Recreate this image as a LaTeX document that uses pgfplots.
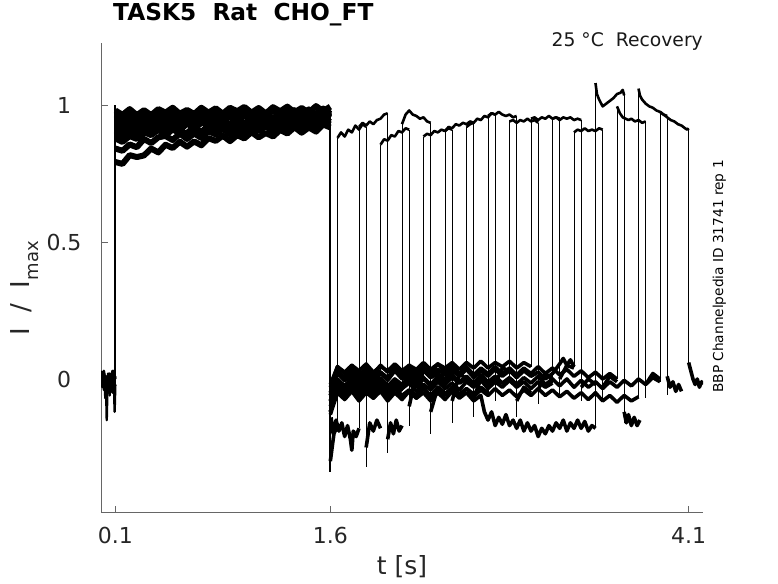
\documentclass[border=0pt]{standalone}
\usepackage{fontspec}
\setmainfont{DejaVu Sans}
\usepackage{pgfplots}
\pgfplotsset{compat=1.18}
\usepackage{pgfplotstable}

% prepulse segment (0.1 s - 1.6 s), one column per trace
\pgfplotstableread{
t    p0   p1   p2   p3   p4   p5   p6   p7   p8   p9
0.10 .980 .966 .949 .935 .921 .907 .892 .878 .841 .792
0.15 .964 .952 .939 .926 .910 .893 .880 .865 .833 .785
0.20 .985 .973 .960 .946 .929 .912 .902 .887 .856 .817
0.25 .963 .953 .940 .926 .913 .901 .887 .876 .846 .810
0.30 .981 .968 .955 .946 .938 .925 .914 .901 .876 .816
0.35 .963 .951 .941 .934 .926 .912 .902 .890 .861 .841
0.40 .985 .975 .965 .956 .945 .935 .922 .910 .882 .827
0.45 .972 .962 .949 .935 .926 .914 .904 .889 .887 .855
0.50 .990 .979 .965 .951 .943 .932 .921 .911 .872 .843
0.55 .968 .957 .946 .936 .925 .917 .906 .897 .896 .866
0.60 .982 .976 .969 .958 .950 .940 .933 .898 .876 .848
0.65 .967 .961 .956 .944 .935 .927 .915 .919 .896 .867
0.70 .990 .982 .973 .965 .954 .946 .934 .901 .880 .853
0.75 .972 .961 .953 .943 .934 .923 .937 .926 .904 .879
0.80 .988 .975 .970 .960 .951 .945 .921 .911 .893 .869
0.85 .968 .960 .951 .944 .935 .930 .942 .932 .913 .888
0.90 .990 .981 .974 .966 .960 .930 .921 .911 .893 .868
0.95 .977 .966 .959 .952 .942 .950 .940 .928 .910 .890
1.00 .993 .987 .977 .970 .960 .931 .923 .911 .896 .878
1.05 .972 .964 .957 .947 .962 .955 .946 .936 .921 .901
1.10 .989 .981 .972 .968 .945 .940 .934 .923 .905 .882
1.15 .969 .964 .956 .952 .966 .960 .953 .941 .922 .898
1.20 .992 .986 .981 .952 .944 .939 .932 .920 .904 .885
1.25 .977 .971 .961 .971 .962 .955 .947 .939 .928 .909
1.30 .994 .989 .979 .952 .944 .938 .933 .926 .916 .896
1.35 .973 .965 .981 .976 .967 .962 .957 .947 .934 .919
1.40 .989 .986 .964 .960 .955 .950 .941 .927 .916 .899
1.45 .972 .969 .984 .979 .974 .967 .957 .943 .934 .918
1.50 .996 .969 .962 .958 .952 .945 .939 .928 .916 .903
1.55 .977 .987 .980 .974 .967 .965 .963 .952 .942 .929
1.60 .994 .968 .962 .957 .953 .952 .951 .938 .929 .918
}\pre

\pgfplotsset{
  pb/.style={black, line width=2.4pt, line join=round},
  pp/.style={black, line width=6pt, line join=round},
  bl/.style={black, line width=3.6pt, line join=round},
  pu/.style={black, line width=2.6pt, line join=round},
  vl/.style={black, line width=0.9pt},
}

\begin{document}
\begin{tikzpicture}
\path[use as bounding box] (0,0) rectangle (778pt,583pt);
\begin{axis}[
  at={(101pt,71pt)}, anchor=south west,
  scale only axis, width=602pt, height=469pt,
  xmin=0, xmax=4.2, ymin=-0.4854, ymax=1.2263,
  axis x line=bottom, axis y line=left,
  axis line style={-, draw=black!60, line width=0.8pt},
  x axis line style={-}, y axis line style={-},
  xtick={0.1,1.6,4.1}, xticklabels={0.1,1.6,4.1},
  ytick={0,0.5,1}, yticklabels={0,0.5,1},
  tick align=inside, major tick length=6.5pt,
  tick style={draw=black!60, line width=0.8pt},
  /pgf/number format/assume math mode=true,
  ticklabel style={font=\fontsize{22}{26}\selectfont, text=black!85},
  xticklabel style={anchor=center, yshift=-23pt},
  yticklabel style={anchor=center, xshift=-37pt},
  xlabel={t [s]},
  xlabel style={at={(axis description cs:0.5,-0.1343)}, anchor=base, inner sep=0pt,
    font=\fontsize{25}{30}\selectfont, text=black!85},
  ylabel={I\hspace{0.6em}/\hspace{0.6em}I\raisebox{-0.35em}{\fontsize{18}{20}\selectfont max}},
  ylabel style={at={(axis description cs:-0.1196,0.4765)}, anchor=base, inner sep=0pt,
    font=\fontsize{26}{30}\selectfont, text=black!85},
  title={TASK5\ \ Rat\ \ CHO\_FT},
  title style={at={(axis description cs:0.0199,1.0362)}, anchor=base west, inner sep=0pt,
    font=\fontsize{23.3}{28}\selectfont\bfseries},
  unbounded coords=jump,
]
% holding level before the step
\addplot[pb] coordinates {(0,0.00) (0.01,-0.03) (0.02,0.02) (0.03,-0.02) (0.04,0.01) (0.05,-0.05) (0.06,0.02) (0.07,-0.03) (0.08,0.03) (0.09,-0.02) (0.1,0.01)};
\addplot[pb] coordinates {(0,-0.02) (0.01,0.02) (0.02,-0.04) (0.025,0.0) (0.03,-0.07) (0.035,-0.02) (0.04,-0.15) (0.045,-0.03) (0.05,0.01) (0.06,-0.04) (0.07,0.02) (0.08,-0.05) (0.09,0.0) (0.095,-0.12) (0.1,-0.02)};
\addplot[pb] coordinates {(0,0.03) (0.01,-0.01) (0.02,0.03) (0.03,0.0) (0.04,-0.04) (0.05,0.02) (0.06,-0.06) (0.07,0.0) (0.08,-0.01) (0.09,0.03) (0.1,0.0)};
% step edges
\addplot[black, line width=2pt] coordinates {(0.1,-0.12) (0.1,1.0)};
\addplot[black, line width=2pt] coordinates {(1.6,0.99) (1.6,-0.34)};
% prepulse
\pgfplotsinvokeforeach{0,...,9}{\addplot[pp] table[x=t,y=p#1]{\pre};}

% baselines after the prepulse (one per sweep)
\addplot[bl] coordinates {(1.60,-0.30) (1.625,-0.20) (1.65,-0.17)};
\addplot[bl] coordinates {(1.605,-0.14) (1.62,-0.20) (1.64,-0.15) (1.66,-0.19) (1.68,-0.16) (1.70,-0.21) (1.72,-0.17) (1.74,-0.22) (1.75,-0.26) (1.76,-0.19) (1.78,-0.21) (1.80,-0.18)};
\addplot[bl] coordinates {(1.60,-0.06) (1.65,0.03) (1.70,0.00) (1.75,0.04) (1.80,0.005) (1.85,0.035) (1.90,0.01) (1.95,0.03)};
\addplot[bl] coordinates {(1.60,-0.12) (1.65,-0.03) (1.70,-0.06) (1.75,-0.02) (1.80,-0.055) (1.85,-0.025) (1.90,-0.06) (1.95,-0.03) (2.00,-0.05) (2.05,-0.02) (2.10,-0.045)};
\addplot[bl] coordinates {(1.60,-0.05) (1.65,0.025) (1.70,-0.005) (1.75,0.02) (1.80,-0.01) (1.85,0.03) (1.90,0.0) (1.95,0.025) (2.00,-0.005) (2.05,0.03) (2.10,0.0) (2.15,0.02) (2.20,-0.01) (2.25,0.015)};
\addplot[bl] coordinates {(1.60,-0.08) (1.65,-0.01) (1.70,-0.035) (1.75,0.0) (1.80,-0.03) (1.85,-0.005) (1.90,-0.04) (1.95,-0.01) (2.00,-0.03) (2.05,0.0) (2.10,-0.035) (2.15,-0.01) (2.20,-0.03) (2.25,0.0) (2.30,-0.025) (2.35,-0.005) (2.40,-0.02)};
\addplot[bl] coordinates {(1.60,-0.03) (1.65,0.045) (1.70,0.02) (1.75,0.05) (1.80,0.015) (1.85,0.04) (1.90,0.02) (1.95,0.05) (2.00,0.025) (2.05,0.045) (2.10,0.015) (2.15,0.05) (2.20,0.02) (2.25,0.045) (2.30,0.02) (2.35,0.055) (2.40,0.025) (2.45,0.05) (2.50,0.02) (2.55,0.04)};
\addplot[bl] coordinates {(1.60,-0.12) (1.65,-0.04) (1.70,-0.065) (1.75,-0.035) (1.80,-0.07) (1.85,-0.04) (1.90,-0.06) (1.95,-0.03) (2.00,-0.065) (2.05,-0.035) (2.10,-0.06) (2.15,-0.04) (2.20,-0.07) (2.25,-0.035) (2.30,-0.06) (2.35,-0.03) (2.40,-0.055) (2.45,-0.03) (2.50,-0.06) (2.55,-0.035) (2.60,-0.055) (2.65,-0.03) (2.70,-0.05)};
\addplot[bl] coordinates {(1.60,-0.08) (1.65,-0.01) (1.70,-0.035) (1.75,-0.005) (1.80,-0.03) (1.85,0.0) (1.90,-0.025) (1.95,-0.005) (2.00,-0.035) (2.05,-0.01) (2.10,-0.03) (2.15,0.0) (2.20,-0.02) (2.25,0.005) (2.30,-0.025) (2.35,0.0) (2.40,-0.02) (2.45,0.005) (2.50,-0.015) (2.55,0.0) (2.60,-0.025) (2.65,0.005) (2.70,-0.02) (2.75,0.0) (2.80,-0.015) (2.85,-0.005)};
\addplot[bl] coordinates {(1.60,-0.02) (1.65,0.045) (1.70,0.025) (1.75,0.05) (1.80,0.03) (1.85,0.055) (1.90,0.025) (1.95,0.045) (2.00,0.03) (2.05,0.055) (2.10,0.03) (2.15,0.05) (2.20,0.035) (2.25,0.06) (2.30,0.035) (2.35,0.055) (2.40,0.04) (2.45,0.06) (2.50,0.035) (2.55,0.06) (2.60,0.04) (2.65,0.065) (2.70,0.04) (2.75,0.06) (2.80,0.045) (2.85,0.065) (2.90,0.04) (2.95,0.06) (3.00,0.045)};
\addplot[bl] coordinates {(1.60,-0.10) (1.65,-0.02) (1.70,-0.045) (1.75,-0.015) (1.80,-0.04) (1.85,-0.02) (1.90,-0.05) (1.95,-0.02) (2.00,-0.04) (2.05,-0.01) (2.10,-0.035) (2.15,-0.015) (2.20,-0.045) (2.25,-0.02) (2.30,-0.04) (2.35,-0.01) (2.40,-0.035) (2.45,-0.015) (2.50,-0.04) (2.55,-0.01) (2.60,-0.03) (2.65,-0.005) (2.70,-0.035) (2.75,-0.01) (2.80,-0.03) (2.85,-0.005) (2.90,-0.03) (2.95,-0.01) (3.00,-0.035) (3.05,-0.01) (3.10,-0.03) (3.15,-0.015)};
\addplot[bl] coordinates {(1.60,-0.06) (1.65,0.02) (1.70,-0.005) (1.75,0.025) (1.80,0.0) (1.85,0.02) (1.90,-0.01) (1.95,0.02) (2.00,0.0) (2.05,0.03) (2.10,0.005) (2.15,0.025) (2.20,0.0) (2.25,0.03) (2.30,0.005) (2.35,0.02) (2.40,0.0) (2.45,0.03) (2.50,0.01) (2.55,0.035) (2.60,0.005) (2.65,0.03) (2.70,0.01) (2.75,0.035) (2.80,0.01) (2.85,0.03) (2.90,0.005) (2.95,0.03) (3.00,0.01) (3.05,0.025) (3.10,0.0) (3.15,0.02) (3.20,0.055) (3.225,0.075) (3.25,0.05) (3.275,0.07) (3.30,0.045)};
\addplot[bl] coordinates {(1.60,-0.13) (1.65,-0.05) (1.70,-0.075) (1.75,-0.045) (1.80,-0.08) (1.85,-0.05) (1.90,-0.07) (1.95,-0.045) (2.00,-0.08) (2.05,-0.05) (2.10,-0.075) (2.15,-0.045) (2.20,-0.07) (2.25,-0.05) (2.30,-0.08) (2.35,-0.05) (2.40,-0.075) (2.45,-0.045) (2.50,-0.07) (2.55,-0.05) (2.60,-0.08) (2.65,-0.06) (2.675,-0.12) (2.70,-0.15) (2.725,-0.12) (2.75,-0.17) (2.775,-0.14) (2.80,-0.165) (2.825,-0.13) (2.85,-0.17) (2.875,-0.15) (2.90,-0.18) (2.925,-0.15) (2.95,-0.19) (2.975,-0.16) (3.00,-0.19) (3.025,-0.17) (3.05,-0.21) (3.075,-0.18) (3.10,-0.20) (3.125,-0.17) (3.15,-0.19) (3.175,-0.16) (3.20,-0.18) (3.225,-0.15) (3.25,-0.19) (3.275,-0.16) (3.30,-0.18) (3.325,-0.15) (3.35,-0.18) (3.375,-0.155) (3.40,-0.19) (3.425,-0.17) (3.45,-0.18)};
\addplot[bl] coordinates {(1.60,-0.05) (1.65,0.03) (1.70,0.005) (1.75,0.035) (1.80,0.01) (1.85,0.03) (1.90,0.0) (1.95,0.025) (2.00,0.005) (2.05,0.035) (2.10,0.01) (2.15,0.04) (2.20,0.015) (2.25,0.04) (2.30,0.01) (2.35,0.035) (2.40,0.015) (2.45,0.045) (2.50,0.02) (2.55,0.045) (2.60,0.015) (2.65,0.04) (2.70,0.02) (2.75,0.045) (2.80,0.02) (2.85,0.04) (2.90,0.015) (2.95,0.04) (3.00,0.02) (3.05,0.045) (3.10,0.02) (3.15,0.04) (3.20,0.015) (3.25,0.035) (3.30,0.01) (3.35,0.03) (3.40,0.005) (3.45,0.025) (3.50,0.0) (3.55,0.02) (3.60,0.0)};
\addplot[bl] coordinates {(1.60,-0.12) (1.65,-0.04) (1.70,-0.07) (1.75,-0.035) (1.80,-0.065) (1.85,-0.04) (1.90,-0.07) (1.95,-0.04) (2.00,-0.06) (2.05,-0.03) (2.10,-0.065) (2.15,-0.04) (2.20,-0.06) (2.25,-0.035) (2.30,-0.065) (2.35,-0.04) (2.40,-0.06) (2.45,-0.03) (2.50,-0.055) (2.55,-0.035) (2.60,-0.065) (2.65,-0.04) (2.70,-0.06) (2.75,-0.035) (2.80,-0.06) (2.85,-0.04) (2.90,-0.065) (2.95,-0.04) (3.00,-0.06) (3.05,-0.035) (3.10,-0.06) (3.15,-0.04) (3.20,-0.065) (3.25,-0.045) (3.30,-0.07) (3.35,-0.05) (3.40,-0.075) (3.45,-0.05) (3.50,-0.08) (3.55,-0.06) (3.60,-0.085) (3.65,-0.06) (3.70,-0.08) (3.75,-0.065)};
\addplot[bl] coordinates {(1.60,-0.08) (1.65,0.0) (1.70,-0.025) (1.75,0.005) (1.80,-0.02) (1.85,0.01) (1.90,-0.015) (1.95,0.005) (2.00,-0.025) (2.05,0.0) (2.10,-0.02) (2.15,0.01) (2.20,-0.015) (2.25,0.005) (2.30,-0.02) (2.35,0.01) (2.40,-0.01) (2.45,0.015) (2.50,-0.01) (2.55,0.01) (2.60,-0.015) (2.65,0.015) (2.70,-0.01) (2.75,0.01) (2.80,-0.015) (2.85,0.005) (2.90,-0.02) (2.95,0.005) (3.00,-0.015) (3.05,0.01) (3.10,-0.02) (3.15,0.0) (3.20,-0.025) (3.25,0.0) (3.30,-0.03) (3.35,-0.005) (3.40,-0.03) (3.45,-0.01) (3.50,-0.035) (3.55,-0.01) (3.60,-0.03) (3.65,-0.005) (3.70,-0.025) (3.75,0.0) (3.80,-0.02) (3.85,0.005) (3.90,-0.01)};

% test pulses (one per sweep)
\addplot[pu] coordinates {(1.65,0.88) (1.675,0.90) (1.70,0.885) (1.725,0.91) (1.75,0.90) (1.775,0.925) (1.80,0.91) (1.825,0.93) (1.85,0.92)};
\addplot[pu] coordinates {(1.80,0.92) (1.825,0.935) (1.85,0.925) (1.875,0.94) (1.90,0.93) (1.925,0.945) (1.95,0.95) (1.975,0.965) (2.00,0.97)};
\addplot[pu] coordinates {(1.95,0.855) (1.975,0.875) (2.00,0.87) (2.025,0.89) (2.05,0.885) (2.075,0.905) (2.10,0.90) (2.125,0.915) (2.15,0.91)};
\addplot[pu] coordinates {(2.10,0.93) (2.125,0.965) (2.15,0.98) (2.175,0.965) (2.20,0.96) (2.225,0.95) (2.25,0.955) (2.275,0.94) (2.30,0.935)};
\addplot[pu] coordinates {(2.25,0.885) (2.275,0.895) (2.30,0.89) (2.325,0.905) (2.35,0.90) (2.375,0.91) (2.40,0.905) (2.425,0.915) (2.45,0.91)};
\addplot[pu] coordinates {(2.40,0.905) (2.425,0.92) (2.45,0.915) (2.475,0.93) (2.50,0.925) (2.525,0.935) (2.55,0.93) (2.575,0.94) (2.60,0.935)};
\addplot[pu] coordinates {(2.55,0.92) (2.575,0.93) (2.60,0.935) (2.625,0.95) (2.65,0.945) (2.675,0.96) (2.70,0.955) (2.725,0.97) (2.75,0.965)};
\addplot[pu] coordinates {(2.70,0.96) (2.725,0.97) (2.75,0.965) (2.775,0.975) (2.80,0.965) (2.825,0.96) (2.85,0.965) (2.875,0.955) (2.90,0.96)};
\addplot[pu] coordinates {(2.85,0.94) (2.875,0.945) (2.90,0.935) (2.925,0.945) (2.95,0.94) (2.975,0.95) (3.00,0.94) (3.025,0.945) (3.05,0.935)};
\addplot[pu] coordinates {(3.00,0.95) (3.025,0.955) (3.05,0.945) (3.075,0.955) (3.10,0.95) (3.125,0.96) (3.15,0.95) (3.175,0.955) (3.20,0.95)};
\addplot[pu] coordinates {(3.15,0.95) (3.175,0.955) (3.20,0.945) (3.225,0.955) (3.25,0.95) (3.275,0.955) (3.30,0.945) (3.325,0.95) (3.35,0.945)};
\addplot[pu] coordinates {(3.30,0.90) (3.325,0.91) (3.35,0.905) (3.375,0.915) (3.40,0.905) (3.425,0.91) (3.45,0.905) (3.475,0.915) (3.50,0.91)};
\addplot[pu] coordinates {(3.45,1.08) (3.46,1.04) (3.475,1.02) (3.50,0.995) (3.525,1.005) (3.55,1.015) (3.575,1.025) (3.60,1.04) (3.625,1.045) (3.64,1.055) (3.65,1.035)};
\addplot[pu] coordinates {(3.60,0.995) (3.62,0.97) (3.64,0.955) (3.66,0.95) (3.68,0.945) (3.70,0.95) (3.725,0.94) (3.75,0.945) (3.775,0.935) (3.80,0.94)};
\addplot[pu] coordinates {(3.75,1.06) (3.76,1.035) (3.775,1.02) (3.80,1.005) (3.825,0.995) (3.85,0.99) (3.875,0.98) (3.90,0.975) (3.925,0.965) (3.95,0.96)};
\addplot[pu] coordinates {(3.90,0.975) (3.925,0.965) (3.95,0.955) (3.975,0.945) (4.00,0.94) (4.025,0.93) (4.05,0.925) (4.075,0.915) (4.09,0.91) (4.10,0.915)};

% tails after each test pulse
\addplot[bl] coordinates {(1.85,-0.25) (1.875,-0.16) (1.90,-0.19) (1.925,-0.15) (1.95,-0.18)};
\addplot[bl] coordinates {(2.00,-0.22) (2.02,-0.16) (2.04,-0.20) (2.06,-0.15) (2.08,-0.19) (2.10,-0.17)};
\addplot[bl] coordinates {(2.15,-0.10) (2.20,0.02) (2.25,0.0)};
\addplot[bl] coordinates {(2.30,-0.12) (2.35,-0.03) (2.40,-0.05)};
\addplot[bl] coordinates {(2.45,-0.08) (2.50,0.02) (2.55,0.0)};
\addplot[bl] coordinates {(2.60,-0.07) (2.65,0.0) (2.70,-0.02)};
\addplot[bl] coordinates {(2.75,-0.02) (2.80,0.04) (2.85,0.03)};
\addplot[bl] coordinates {(2.90,-0.08) (2.95,-0.03) (3.00,-0.05)};
\addplot[bl] coordinates {(3.05,-0.04) (3.10,0.02) (3.15,0.0)};
\addplot[bl] coordinates {(3.20,0.0) (3.25,0.05) (3.30,0.04)};
\addplot[bl] coordinates {(3.35,-0.03) (3.40,0.0) (3.45,-0.02)};
\addplot[bl] coordinates {(3.50,-0.03) (3.55,0.01) (3.60,-0.01)};
\addplot[bl] coordinates {(3.65,-0.12) (3.665,-0.16) (3.68,-0.13) (3.70,-0.17) (3.72,-0.14) (3.74,-0.17) (3.76,-0.15)};
\addplot[bl] coordinates {(3.80,-0.02) (3.85,0.02) (3.90,0.0)};
\addplot[bl] coordinates {(3.95,0.01) (3.97,-0.03) (3.99,-0.01) (4.01,-0.045) (4.03,-0.02) (4.05,-0.045)};
\addplot[bl] coordinates {(4.10,0.06) (4.115,0.03) (4.13,0.0) (4.145,-0.02) (4.16,0.0) (4.175,-0.03) (4.19,-0.01) (4.20,-0.02)};

% switching edges of the test pulses
\addplot[vl] coordinates {
(1.65,-0.17) (1.65,0.88) (1.65,nan)
(1.80,-0.18) (1.80,0.92) (1.80,nan)
(1.95,0.03) (1.95,0.855) (1.95,nan)
(2.10,-0.045) (2.10,0.93) (2.10,nan)
(2.25,0.015) (2.25,0.885) (2.25,nan)
(2.40,-0.02) (2.40,0.905) (2.40,nan)
(2.55,0.04) (2.55,0.92) (2.55,nan)
(2.70,-0.05) (2.70,0.96) (2.70,nan)
(2.85,-0.005) (2.85,0.94) (2.85,nan)
(3.00,0.045) (3.00,0.95) (3.00,nan)
(3.15,-0.015) (3.15,0.95) (3.15,nan)
(3.30,0.045) (3.30,0.90) (3.30,nan)
(3.45,-0.18) (3.45,1.08) (3.45,nan)
(3.60,0.0) (3.60,0.995) (3.60,nan)
(3.75,-0.065) (3.75,1.06) (3.75,nan)
(3.90,-0.01) (3.90,0.975) (3.90,nan)
(1.85,0.92) (1.85,-0.32) (1.85,nan)
(2.00,0.97) (2.00,-0.27) (2.00,nan)
(2.15,0.91) (2.15,-0.17) (2.15,nan)
(2.30,0.935) (2.30,-0.20) (2.30,nan)
(2.45,0.91) (2.45,-0.16) (2.45,nan)
(2.60,0.935) (2.60,-0.14) (2.60,nan)
(2.75,0.965) (2.75,-0.08) (2.75,nan)
(2.90,0.96) (2.90,-0.14) (2.90,nan)
(3.05,0.935) (3.05,-0.09) (3.05,nan)
(3.20,0.95) (3.20,-0.06) (3.20,nan)
(3.35,0.945) (3.35,-0.08) (3.35,nan)
(3.50,0.91) (3.50,-0.08) (3.50,nan)
(3.65,1.035) (3.65,-0.16) (3.65,nan)
(3.80,0.94) (3.80,-0.07) (3.80,nan)
(3.95,0.96) (3.95,-0.06) (3.95,nan)
(4.10,0.915) (4.10,0.06)
};
\end{axis}
\node[anchor=base east, inner sep=0pt, font=\fontsize{18.75}{22}\selectfont, text=black!90] at (703pt,536pt) {25 °C\ \ Recovery};
\node[rotate=90, anchor=base, inner sep=0pt, font=\fontsize{13.7}{16}\selectfont] at (723pt,306.5pt) {BBP Channelpedia ID 31741 rep 1};
\end{tikzpicture}
\end{document}
